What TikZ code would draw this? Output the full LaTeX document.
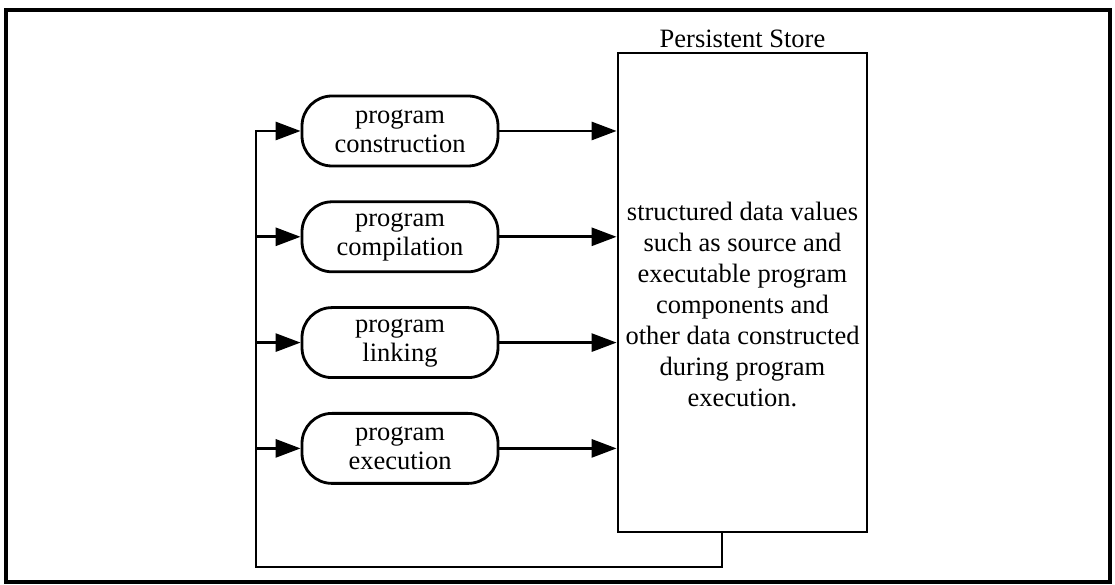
\documentclass[tikz,border=0pt]{standalone}
\usepackage{fontspec}
\setmainfont{Liberation Serif}
\usetikzlibrary{arrows.meta,positioning}

\tikzset{
  stage/.style={draw, line width=2.8pt, rounded corners=30pt, minimum width=196pt,
    minimum height=70pt, align=center, inner sep=2pt, font=\fontsize{26.5}{29}\selectfont},
  storebox/.style={draw, line width=2.8pt, minimum width=249pt, minimum height=479pt},
  storetext/.style={align=center, font=\fontsize{26.5}{31}\selectfont},
  flow/.style={line width=2.8pt, -{Triangle[length=25pt,width=18pt]}},
}

\begin{document}
\begin{tikzpicture}[x=1pt,y=1pt]
  \useasboundingbox (0,0) rectangle (1115,585);
  % outer frame
  \draw[line width=3.2pt] (6,3) rectangle (1110,575);

  % the store
  \node[storebox] (store) at (742.5,292.5) {};
  \node[font=\fontsize{26.5}{29}\selectfont, above=0pt of store] (title) {Persistent Store};
  \node[storetext] (contents) at ([yshift=-12pt]store.center)
    {structured data values\\ such as source and\\ executable program\\ components and\\
     other data constructed\\ during program\\ execution.};

  % the four stages
  \node[stage] (build) at (400,454) {program\\ construction};
  \node[stage, below=33pt of build] (compile) {program\\ compilation};
  \node[stage, below=33pt of compile] (link) {program\\ linking};
  \node[stage, below=33pt of link] (run) {program\\ execution};

  % stages write into the store
  \foreach \s in {build,compile,link,run}
    \draw[flow] (\s.east) -- (\s.east -| store.west);

  % feedback from the store
  \coordinate (tap) at (722,0);
  \coordinate (back) at (256,18);
  \draw[flow] (store.south -| tap) |- (back) |- (build.west);
  \foreach \s in {compile,link,run}
    \draw[flow] (\s.west -| back) -- (\s.west);
\end{tikzpicture}
\end{document}
